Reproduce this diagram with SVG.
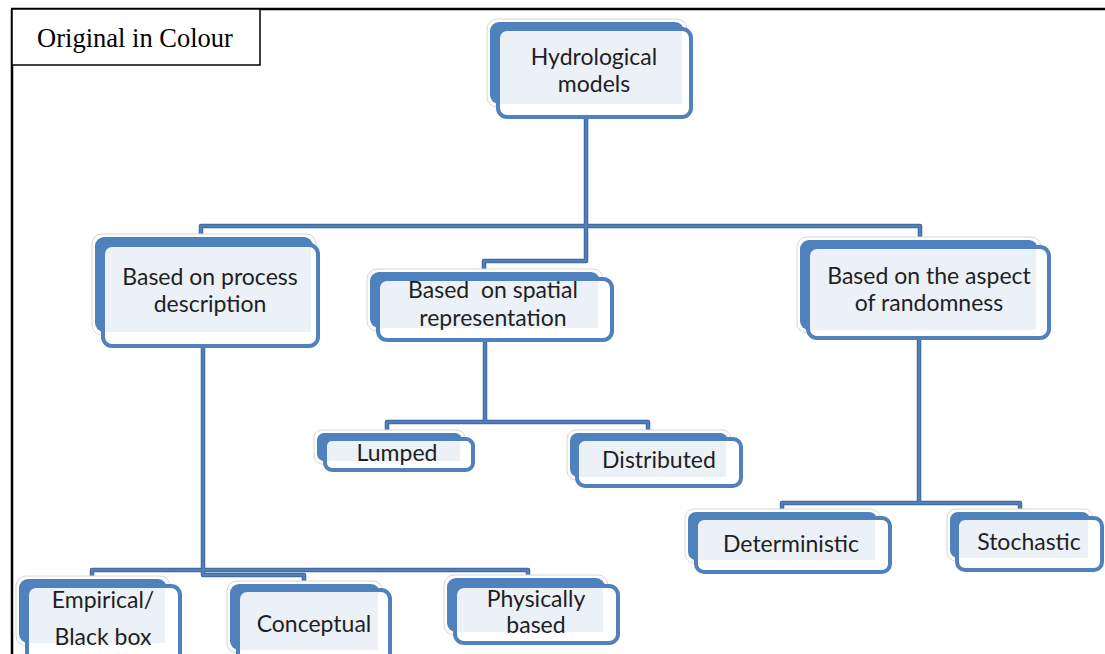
<svg xmlns="http://www.w3.org/2000/svg" xmlns:xlink="http://www.w3.org/1999/xlink" width="1105" height="654" viewBox="0 0 1105 654">
<style>
.halo{fill:#ffffff;stroke:#d6d6d6;stroke-width:1}
.back{fill:#4f81bd}
.frontfill{fill:#ffffff}
.inner{fill:#ecf0f7}
.frontline{fill:none;stroke:#4f81bd;stroke-width:4}
.t{font-family:Lato,"Open Sans",sans-serif;font-size:23px;fill:#1f1f1f;text-anchor:middle}
.c1{fill:none;stroke:#3f6699;stroke-width:4.5;stroke-linejoin:round}
.c2{fill:none;stroke:#4f80bb;stroke-width:2.5;stroke-linejoin:round}
.frame{stroke:#000;stroke-width:2.5;fill:none}
</style>
<defs>
<path id="p1" d="M586,117 V226"/>
<path id="p2" d="M201,237 V226 H920 V240"/>
<path id="p3" d="M586,226 V261 H484 V272"/>
<path id="p4" d="M485,340 V422"/>
<path id="p5" d="M387,433 V422 H648 V433"/>
<path id="p6" d="M919,338 V503"/>
<path id="p7" d="M782,512 V503 H1020 V512"/>
<path id="p8" d="M203,346 V575 H304 V584"/>
<path id="p9" d="M92,579 V570 H528 V578"/>
</defs>
<g id="frame">
<line class="frame" x1="11" y1="9" x2="1105" y2="9"/>
<line class="frame" x1="12" y1="9" x2="12" y2="654"/>
<rect x="12" y="9" width="248" height="56" fill="#fff" stroke="#000" stroke-width="1.5"/>
<text x="135" y="47" font-family="'Liberation Serif',serif" font-size="26.5" text-anchor="middle" fill="#000">Original in Colour</text>
</g>
<g id="connectors">
<use xlink:href="#p1" class="c1"/><use xlink:href="#p2" class="c1"/><use xlink:href="#p3" class="c1"/>
<use xlink:href="#p4" class="c1"/><use xlink:href="#p5" class="c1"/><use xlink:href="#p6" class="c1"/>
<use xlink:href="#p7" class="c1"/><use xlink:href="#p8" class="c1"/><use xlink:href="#p9" class="c1"/>
<use xlink:href="#p1" class="c2"/><use xlink:href="#p2" class="c2"/><use xlink:href="#p3" class="c2"/>
<use xlink:href="#p4" class="c2"/><use xlink:href="#p5" class="c2"/><use xlink:href="#p6" class="c2"/>
<use xlink:href="#p7" class="c2"/><use xlink:href="#p8" class="c2"/><use xlink:href="#p9" class="c2"/>
</g>
<g id="n-hydro">
<rect class="halo" x="487" y="19" width="200" height="88" rx="10"/>
<rect class="back" x="490" y="22" width="194" height="82" rx="9"/>
<rect class="frontfill" x="498" y="29" width="193" height="88" rx="9"/>
<rect class="inner" x="500" y="31" width="182" height="73"/>
<rect class="frontline" x="498" y="29" width="193" height="88" rx="9"/>
<text class="t" x="594" y="65">Hydrological</text>
<text class="t" x="594" y="92">models</text>
</g>
<g id="n-process">
<rect class="halo" x="92" y="234" width="224" height="101" rx="10"/>
<rect class="back" x="95" y="237" width="218" height="95" rx="9"/>
<rect class="frontfill" x="103" y="245" width="215" height="101" rx="9"/>
<rect class="inner" x="105" y="247" width="206" height="85"/>
<rect class="frontline" x="103" y="245" width="215" height="101" rx="9"/>
<text class="t" x="210" y="285">Based on process</text>
<text class="t" x="210" y="312">description</text>
</g>
<g id="n-spatial">
<rect class="halo" x="367" y="269" width="236" height="62" rx="10"/>
<rect class="back" x="370" y="272" width="230" height="56" rx="9"/>
<rect class="frontfill" x="378" y="279" width="234" height="61" rx="9"/>
<rect class="inner" x="380" y="281" width="218" height="47"/>
<rect class="frontline" x="378" y="279" width="234" height="61" rx="9"/>
<text class="t" x="493" y="298" xml:space="preserve">Based  on spatial</text>
<text class="t" x="493" y="326">representation</text>
</g>
<g id="n-random">
<rect class="halo" x="797" y="237" width="244" height="96" rx="10"/>
<rect class="back" x="800" y="240" width="238" height="90" rx="9"/>
<rect class="frontfill" x="808" y="247" width="241" height="91" rx="9"/>
<rect class="inner" x="810" y="249" width="226" height="81"/>
<rect class="frontline" x="808" y="247" width="241" height="91" rx="9"/>
<text class="t" x="929" y="284">Based on the aspect</text>
<text class="t" x="929" y="311">of randomness</text>
</g>
<g id="n-lumped">
<rect class="halo" x="314" y="430" width="151" height="34" rx="8"/>
<rect class="back" x="317" y="433" width="145" height="28" rx="7"/>
<rect class="frontfill" x="325" y="439" width="148" height="31" rx="7"/>
<rect class="inner" x="327" y="441" width="133" height="20"/>
<rect class="frontline" x="325" y="439" width="148" height="31" rx="7"/>
<text class="t" x="397" y="461">Lumped</text>
</g>
<g id="n-distributed">
<rect class="halo" x="567" y="430" width="164" height="50" rx="9"/>
<rect class="back" x="570" y="433" width="158" height="44" rx="8"/>
<rect class="frontfill" x="577" y="439" width="164" height="47" rx="8"/>
<rect class="inner" x="579" y="441" width="147" height="36"/>
<rect class="frontline" x="577" y="439" width="164" height="47" rx="8"/>
<text class="t" x="659" y="468">Distributed</text>
</g>
<g id="n-deterministic">
<rect class="halo" x="685" y="509" width="195" height="54" rx="9"/>
<rect class="back" x="688" y="512" width="189" height="48" rx="8"/>
<rect class="frontfill" x="696" y="518" width="194" height="54" rx="8"/>
<rect class="inner" x="698" y="520" width="177" height="40"/>
<rect class="frontline" x="696" y="518" width="194" height="54" rx="8"/>
<text class="t" x="791" y="552">Deterministic</text>
</g>
<g id="n-stochastic">
<rect class="halo" x="947" y="509" width="146" height="52" rx="9"/>
<rect class="back" x="950" y="512" width="140" height="46" rx="8"/>
<rect class="frontfill" x="957" y="518" width="145" height="52" rx="8"/>
<rect class="inner" x="959" y="520" width="129" height="38"/>
<rect class="frontline" x="957" y="518" width="145" height="52" rx="8"/>
<text class="t" x="1029" y="550">Stochastic</text>
</g>
<g id="n-empirical">
<rect class="halo" x="16" y="576" width="154" height="70" rx="10"/>
<rect class="back" x="19" y="579" width="148" height="64" rx="9"/>
<rect class="frontfill" x="27" y="586" width="153" height="80" rx="9"/>
<rect class="inner" x="29" y="588" width="136" height="55"/>
<rect class="frontline" x="27" y="586" width="153" height="80" rx="9"/>
<text class="t" x="103" y="608">Empirical/</text>
<text class="t" x="103" y="645">Black box</text>
</g>
<g id="n-conceptual">
<rect class="halo" x="227" y="581" width="156" height="72" rx="10"/>
<rect class="back" x="230" y="584" width="150" height="66" rx="9"/>
<rect class="frontfill" x="238" y="590" width="152" height="76" rx="9"/>
<rect class="inner" x="240" y="592" width="138" height="58"/>
<rect class="frontline" x="238" y="590" width="152" height="76" rx="9"/>
<text class="t" x="314" y="632">Conceptual</text>
</g>
<g id="n-physically">
<rect class="halo" x="444" y="575" width="164" height="60" rx="10"/>
<rect class="back" x="447" y="578" width="158" height="54" rx="9"/>
<rect class="frontfill" x="455" y="586" width="163" height="57" rx="9"/>
<rect class="inner" x="457" y="588" width="146" height="44"/>
<rect class="frontline" x="455" y="586" width="163" height="57" rx="9"/>
<text class="t" x="536" y="607">Physically</text>
<text class="t" x="536" y="633">based</text>
</g>
</svg>
